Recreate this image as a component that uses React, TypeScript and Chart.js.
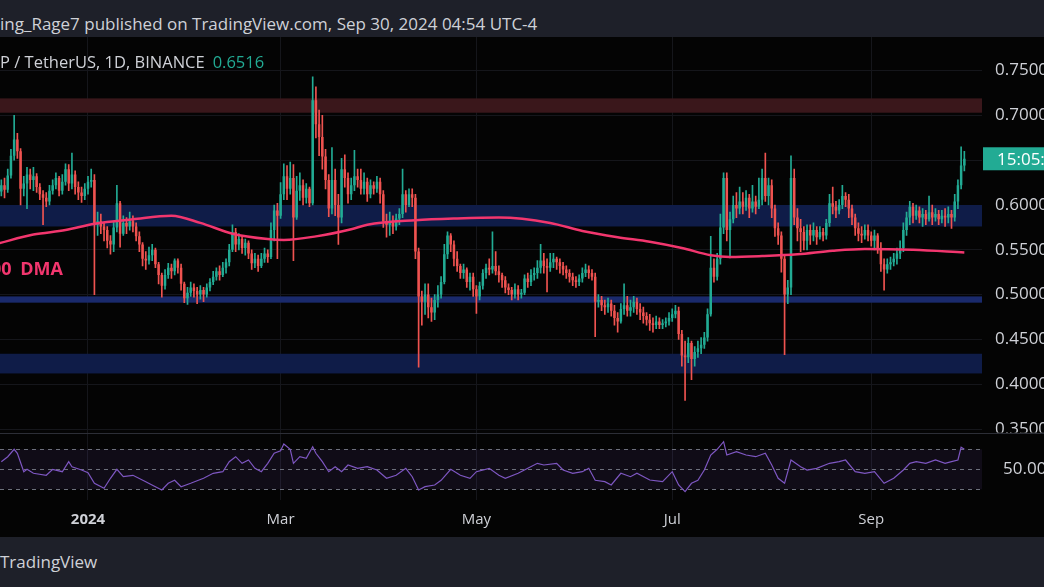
import { useEffect, useRef } from "react";
import { Chart, registerables } from "chart.js";

Chart.register(...registerables);

// Daily XRP / TetherUS candles. Day 0 = 2024-01-01, first candle = 2023-12-05 (day -27).
const firstDay = -27;
const firstOpen = 0.615;
const closes = [
  0.622, 0.617, 0.633, 0.655, 0.673, 0.660, 0.618, 0.624, 0.634, 0.628,
  0.632, 0.620, 0.612, 0.608, 0.604, 0.616, 0.622, 0.630, 0.616, 0.626,
  0.640, 0.624, 0.634, 0.620, 0.614, 0.610, 0.618, 0.626, 0.628, 0.578,
  0.582, 0.576, 0.572, 0.560, 0.556, 0.575, 0.602, 0.568, 0.580, 0.576,
  0.582, 0.576, 0.565, 0.556, 0.540, 0.538, 0.544, 0.550, 0.534, 0.522,
  0.510, 0.522, 0.530, 0.526, 0.538, 0.530, 0.512, 0.496, 0.502, 0.508,
  0.504, 0.500, 0.505, 0.500, 0.508, 0.514, 0.520, 0.526, 0.522, 0.530,
  0.536, 0.550, 0.570, 0.556, 0.562, 0.552, 0.558, 0.546, 0.535, 0.540,
  0.532, 0.540, 0.546, 0.542, 0.572, 0.594, 0.588, 0.612, 0.632, 0.618,
  0.630, 0.586, 0.616, 0.622, 0.608, 0.618, 0.602, 0.717, 0.690, 0.676,
  0.654, 0.628, 0.596, 0.628, 0.600, 0.586, 0.640, 0.630, 0.612, 0.622,
  0.632, 0.628, 0.618, 0.626, 0.612, 0.622, 0.618, 0.626, 0.612, 0.582,
  0.578, 0.582, 0.576, 0.585, 0.590, 0.612, 0.600, 0.612, 0.608, 0.548,
  0.498, 0.492, 0.500, 0.486, 0.480, 0.494, 0.500, 0.514, 0.545, 0.566,
  0.556, 0.540, 0.532, 0.524, 0.528, 0.514, 0.520, 0.506, 0.498, 0.510,
  0.524, 0.530, 0.528, 0.532, 0.526, 0.522, 0.516, 0.508, 0.505, 0.500,
  0.506, 0.500, 0.502, 0.518, 0.514, 0.522, 0.524, 0.530, 0.538, 0.532,
  0.530, 0.536, 0.540, 0.536, 0.532, 0.528, 0.524, 0.520, 0.516, 0.514,
  0.518, 0.524, 0.528, 0.524, 0.520, 0.492, 0.494, 0.488, 0.486, 0.490,
  0.482, 0.474, 0.470, 0.484, 0.488, 0.482, 0.486, 0.492, 0.484, 0.480,
  0.476, 0.472, 0.468, 0.466, 0.470, 0.466, 0.468, 0.470, 0.474, 0.478,
  0.482, 0.456, 0.432, 0.430, 0.446, 0.428, 0.436, 0.440, 0.444, 0.452,
  0.478, 0.530, 0.520, 0.540, 0.575, 0.630, 0.572, 0.584, 0.600, 0.596,
  0.604, 0.598, 0.608, 0.596, 0.604, 0.598, 0.606, 0.630, 0.610, 0.622,
  0.596, 0.574, 0.566, 0.540, 0.500, 0.508, 0.630, 0.586, 0.574, 0.570,
  0.560, 0.572, 0.566, 0.572, 0.564, 0.570, 0.566, 0.580, 0.602, 0.598,
  0.594, 0.600, 0.610, 0.606, 0.596, 0.586, 0.574, 0.568, 0.566, 0.572,
  0.566, 0.560, 0.566, 0.552, 0.534, 0.528, 0.534, 0.536, 0.540, 0.546,
  0.552, 0.572, 0.586, 0.598, 0.588, 0.594, 0.586, 0.590, 0.584, 0.592,
  0.586, 0.590, 0.584, 0.588, 0.586, 0.590, 0.586, 0.604, 0.622, 0.644, 0.6516,
];
const highs = [
  0.628, 0.630, 0.640, 0.662, 0.700, 0.680, 0.663, 0.632, 0.642, 0.640,
  0.642, 0.635, 0.624, 0.616, 0.614, 0.622, 0.628, 0.636, 0.632, 0.634,
  0.646, 0.645, 0.658, 0.638, 0.626, 0.620, 0.624, 0.632, 0.640, 0.634,
  0.592, 0.590, 0.580, 0.576, 0.566, 0.582, 0.622, 0.604, 0.588, 0.586,
  0.592, 0.588, 0.580, 0.570, 0.558, 0.548, 0.553, 0.556, 0.552, 0.536,
  0.524, 0.528, 0.535, 0.534, 0.540, 0.540, 0.534, 0.514, 0.508, 0.514,
  0.512, 0.508, 0.510, 0.508, 0.512, 0.518, 0.526, 0.530, 0.532, 0.536,
  0.540, 0.556, 0.578, 0.574, 0.568, 0.566, 0.562, 0.560, 0.550, 0.546,
  0.544, 0.546, 0.552, 0.550, 0.580, 0.600, 0.602, 0.625, 0.646, 0.644,
  0.648, 0.645, 0.632, 0.636, 0.628, 0.624, 0.620, 0.743, 0.732, 0.706,
  0.700, 0.662, 0.634, 0.664, 0.640, 0.612, 0.652, 0.656, 0.636, 0.630,
  0.661, 0.640, 0.640, 0.636, 0.630, 0.628, 0.626, 0.632, 0.630, 0.616,
  0.590, 0.592, 0.588, 0.590, 0.596, 0.640, 0.616, 0.618, 0.618, 0.612,
  0.552, 0.504, 0.512, 0.512, 0.496, 0.500, 0.510, 0.520, 0.556, 0.570,
  0.568, 0.560, 0.548, 0.534, 0.534, 0.530, 0.524, 0.524, 0.510, 0.514,
  0.528, 0.534, 0.540, 0.570, 0.548, 0.532, 0.524, 0.520, 0.512, 0.508,
  0.512, 0.510, 0.506, 0.522, 0.524, 0.528, 0.530, 0.538, 0.556, 0.546,
  0.540, 0.546, 0.546, 0.542, 0.540, 0.536, 0.532, 0.528, 0.524, 0.520,
  0.522, 0.530, 0.534, 0.532, 0.528, 0.524, 0.500, 0.498, 0.494, 0.496,
  0.494, 0.488, 0.480, 0.490, 0.512, 0.498, 0.494, 0.498, 0.496, 0.490,
  0.486, 0.480, 0.478, 0.474, 0.476, 0.474, 0.472, 0.474, 0.480, 0.484,
  0.488, 0.486, 0.460, 0.448, 0.452, 0.448, 0.442, 0.448, 0.452, 0.458,
  0.484, 0.565, 0.540, 0.546, 0.590, 0.636, 0.636, 0.592, 0.610, 0.614,
  0.620, 0.614, 0.616, 0.612, 0.622, 0.610, 0.630, 0.640, 0.658, 0.630,
  0.628, 0.600, 0.580, 0.570, 0.544, 0.516, 0.655, 0.640, 0.596, 0.584,
  0.576, 0.578, 0.578, 0.580, 0.576, 0.576, 0.574, 0.584, 0.612, 0.620,
  0.604, 0.606, 0.622, 0.614, 0.612, 0.600, 0.590, 0.580, 0.576, 0.578,
  0.578, 0.570, 0.572, 0.568, 0.558, 0.540, 0.540, 0.542, 0.546, 0.552,
  0.560, 0.580, 0.592, 0.604, 0.602, 0.600, 0.598, 0.596, 0.594, 0.610,
  0.600, 0.596, 0.594, 0.594, 0.596, 0.598, 0.594, 0.612, 0.628, 0.665, 0.660,
];
const lows = [
  0.610, 0.608, 0.614, 0.630, 0.650, 0.652, 0.600, 0.610, 0.596, 0.618,
  0.616, 0.614, 0.606, 0.578, 0.598, 0.600, 0.612, 0.618, 0.610, 0.612,
  0.622, 0.616, 0.618, 0.612, 0.606, 0.603, 0.606, 0.612, 0.620, 0.500,
  0.566, 0.568, 0.560, 0.552, 0.545, 0.548, 0.570, 0.553, 0.566, 0.568,
  0.572, 0.570, 0.560, 0.548, 0.532, 0.528, 0.534, 0.538, 0.530, 0.512,
  0.497, 0.506, 0.518, 0.518, 0.522, 0.524, 0.505, 0.491, 0.489, 0.498,
  0.497, 0.490, 0.495, 0.492, 0.497, 0.504, 0.511, 0.516, 0.516, 0.520,
  0.524, 0.532, 0.548, 0.548, 0.550, 0.546, 0.544, 0.540, 0.528, 0.530,
  0.526, 0.530, 0.536, 0.536, 0.540, 0.560, 0.540, 0.585, 0.606, 0.606,
  0.612, 0.538, 0.584, 0.605, 0.600, 0.602, 0.598, 0.600, 0.675, 0.655,
  0.640, 0.618, 0.587, 0.590, 0.588, 0.556, 0.580, 0.620, 0.602, 0.606,
  0.616, 0.620, 0.612, 0.612, 0.604, 0.608, 0.612, 0.614, 0.602, 0.575,
  0.564, 0.566, 0.568, 0.572, 0.578, 0.586, 0.592, 0.598, 0.598, 0.540,
  0.419, 0.466, 0.478, 0.474, 0.470, 0.472, 0.486, 0.496, 0.512, 0.540,
  0.548, 0.532, 0.526, 0.518, 0.518, 0.508, 0.505, 0.498, 0.479, 0.494,
  0.506, 0.518, 0.522, 0.524, 0.522, 0.514, 0.508, 0.502, 0.500, 0.494,
  0.496, 0.494, 0.496, 0.500, 0.508, 0.510, 0.516, 0.518, 0.524, 0.524,
  0.503, 0.526, 0.530, 0.528, 0.524, 0.522, 0.518, 0.514, 0.510, 0.508,
  0.510, 0.514, 0.520, 0.518, 0.516, 0.453, 0.486, 0.482, 0.478, 0.480,
  0.476, 0.466, 0.458, 0.468, 0.478, 0.476, 0.476, 0.480, 0.478, 0.472,
  0.468, 0.466, 0.460, 0.458, 0.462, 0.462, 0.462, 0.464, 0.466, 0.470,
  0.474, 0.450, 0.420, 0.382, 0.424, 0.405, 0.420, 0.430, 0.434, 0.440,
  0.448, 0.476, 0.514, 0.516, 0.534, 0.568, 0.560, 0.541, 0.580, 0.586,
  0.590, 0.590, 0.594, 0.586, 0.592, 0.590, 0.596, 0.600, 0.604, 0.600,
  0.586, 0.565, 0.556, 0.525, 0.433, 0.490, 0.500, 0.578, 0.560, 0.548,
  0.550, 0.550, 0.556, 0.560, 0.556, 0.562, 0.560, 0.562, 0.576, 0.590,
  0.586, 0.590, 0.596, 0.598, 0.586, 0.578, 0.566, 0.560, 0.558, 0.562,
  0.560, 0.554, 0.550, 0.546, 0.526, 0.505, 0.524, 0.528, 0.532, 0.534,
  0.540, 0.548, 0.566, 0.578, 0.580, 0.584, 0.580, 0.576, 0.578, 0.582,
  0.578, 0.582, 0.578, 0.580, 0.576, 0.580, 0.574, 0.582, 0.596, 0.618, 0.638,
];

// 200-day moving average
const dmaDays = [-28, -17, -7, 2, 14, 26, 35, 45, 56, 61, 71, 82, 87, 102, 115, 128, 144, 154, 165, 175, 185, 194, 200, 210, 221, 232, 242, 257, 273];
const dmaValues = [0.557, 0.567, 0.572, 0.579, 0.584, 0.588, 0.580, 0.568, 0.562, 0.561, 0.565, 0.573, 0.578, 0.583, 0.585, 0.586, 0.580, 0.571, 0.564, 0.559, 0.552, 0.544, 0.542, 0.543, 0.545, 0.549, 0.551, 0.550, 0.547];

// RSI pane
const rsiDays = [-27, -25, -23, -22, -20, -19, -17, -13, -11, -8, -6, -5, -2, 0, 2, 5, 7, 9, 11, 14, 18, 21, 23, 25, 27, 29, 32, 36, 39, 42, 44, 46, 48, 50, 52, 54, 56, 58, 60, 61, 63, 64, 66, 68, 70, 71, 73, 75, 77, 79, 81, 84, 87, 90, 93, 96, 99, 101, 103, 105, 108, 110, 113, 116, 119, 121, 125, 128, 130, 134, 137, 140, 142, 146, 148, 151, 154, 156, 158, 161, 163, 166, 169, 171, 175, 179, 182, 184, 186, 188, 190, 192, 194, 196, 198, 199, 202, 205, 208, 211, 213, 215, 217, 219, 222, 224, 227, 231, 234, 236, 239, 242, 245, 248, 251, 254, 256, 258, 261, 264, 267, 269, 271, 272, 273];
const rsiValues = [57.6, 62.6, 70, 66, 47.6, 50, 46, 44, 50, 47.6, 57.6, 52.6, 49.3, 46.6, 36, 31, 41, 50, 42.6, 44, 37.6, 32.6, 29.3, 36, 39, 32.6, 36, 41, 46, 47.6, 57.6, 62.6, 56, 59.3, 51, 47.6, 56, 66, 68.6, 75.3, 70, 56, 62.6, 61, 72.6, 66, 57.6, 47.6, 52.6, 47.6, 54.3, 51, 52.6, 49.3, 41, 44, 51, 42.6, 29.3, 32.6, 34.3, 39, 50, 44, 41, 47.6, 51, 44, 41, 46, 51, 56, 54.3, 56, 49.3, 46, 47.6, 51, 39, 37.6, 34.3, 46, 42.6, 46, 39.3, 37.6, 47.6, 34.3, 27.6, 36, 39, 49.3, 64.3, 70, 77.6, 64.3, 67.6, 64.3, 62.6, 66, 54.3, 41, 36, 59.3, 52.6, 49.3, 51, 56, 57.6, 59.3, 47.6, 46, 47.6, 36, 41, 49.3, 56, 57.6, 56, 59.3, 56, 57.6, 59.3, 72, 70];

const xTickDays = [0, 60, 121, 182, 244];
const xTickLabels = ["2024", "Mar", "May", "Jul", "Sep"];
const priceTicks = [0.35, 0.4, 0.45, 0.5, 0.55, 0.6, 0.65, 0.7, 0.75];
const rsiTicks = [50];
const rsiLevels = [70, 50, 30];
const zoneLows = [0.703, 0.576, 0.491, 0.412];
const zoneHighs = [0.719, 0.6, 0.498, 0.434];
const zoneColors = ["#3a171b", "#0f1c48", "#1a2a6c", "#0f1c48"];
const lastPrice = 0.6516;
const countdown = "15:05:52";

const BG = "#040404";
const BAR = "#1e2029";
const GREEN = "#22ab94";
const RED = "#ef5350";
const PINK = "#f2366e";
const GRID = "#15161b";
const TEXT = "#cfd1d7";
const FONT = "'Open Sans', sans-serif";

const noPadding = (s: any) => {
  s.paddingTop = 0;
  s.paddingBottom = 0;
  s.paddingLeft = 0;
  s.paddingRight = 0;
};

const panePlugin = {
  id: "panes",
  beforeDatasetsDraw(chart: any) {
    const { ctx, chartArea: a, scales } = chart;
    const y = scales.y;
    const r = scales.yRsi;
    ctx.save();
    for (let i = 0; i < zoneLows.length; i++) {
      const top = y.getPixelForValue(zoneHighs[i]);
      const bot = y.getPixelForValue(zoneLows[i]);
      ctx.fillStyle = zoneColors[i];
      ctx.fillRect(a.left, top, a.right - a.left, bot - top);
    }
    const t = r.getPixelForValue(rsiLevels[0]);
    const b = r.getPixelForValue(rsiLevels[2]);
    ctx.fillStyle = "rgba(126,87,194,0.10)";
    ctx.fillRect(a.left, t, a.right - a.left, b - t);
    ctx.setLineDash([4, 4]);
    ctx.strokeStyle = "#6c6f7b";
    ctx.lineWidth = 1;
    for (const lv of rsiLevels) {
      const py = Math.round(r.getPixelForValue(lv)) + 0.5;
      ctx.beginPath();
      ctx.moveTo(a.left, py);
      ctx.lineTo(a.right, py);
      ctx.stroke();
    }
    ctx.restore();
  },
  afterDraw(chart: any) {
    const { ctx, chartArea: a, scales, width } = chart;
    const y = scales.y;
    ctx.save();
    ctx.fillStyle = BG;
    ctx.fillRect(a.right, y.bottom, width - a.right, 14);
    ctx.strokeStyle = "#2c2e36";
    ctx.lineWidth = 1;
    const sy = Math.round(y.bottom) + 0.5;
    ctx.beginPath();
    ctx.moveTo(0, sy);
    ctx.lineTo(width, sy);
    ctx.stroke();
    const py = y.getPixelForValue(lastPrice);
    ctx.fillStyle = GREEN;
    ctx.fillRect(a.right + 1, py - 11.5, width - a.right - 1, 23);
    ctx.fillStyle = "#ffffff";
    ctx.font = "17px " + FONT;
    ctx.textBaseline = "middle";
    ctx.fillText(countdown, a.right + 15, py + 1);
    ctx.restore();
  },
};

export default function App() {
  const ref = useRef<HTMLCanvasElement>(null);

  useEffect(() => {
    const canvas = ref.current;
    if (!canvas) return;
    const days = closes.map((_, i) => firstDay + i);
    const opens = closes.map((_, i) => (i === 0 ? firstOpen : closes[i - 1]));
    const colors = closes.map((c, i) => (c >= opens[i] ? GREEN : RED));

    const chart = new Chart(canvas, {
      type: "bar",
      data: {
        datasets: [
          {
            type: "line",
            label: "200 DMA",
            data: dmaDays.map((d, i) => ({ x: d, y: dmaValues[i] })),
            yAxisID: "y",
            borderColor: PINK,
            borderWidth: 2.5,
            pointRadius: 0,
            cubicInterpolationMode: "monotone",
            order: 0,
          } as any,
          {
            type: "line",
            label: "RSI",
            data: rsiDays.map((d, i) => ({ x: d, y: rsiValues[i] })),
            yAxisID: "yRsi",
            borderColor: "#7e57c2",
            borderWidth: 1.2,
            pointRadius: 0,
            tension: 0,
            order: 0,
          } as any,
          {
            type: "bar",
            label: "bodies",
            data: days.map((d, i) => ({ x: d, y: [Math.min(opens[i], closes[i]), Math.max(opens[i], closes[i])] })),
            backgroundColor: colors,
            grouped: false,
            barPercentage: 0.78,
            categoryPercentage: 1,
            minBarLength: 1,
            yAxisID: "y",
            order: 1,
          } as any,
          {
            type: "bar",
            label: "wicks",
            data: days.map((d, i) => ({ x: d, y: [Math.min(lows[i], opens[i], closes[i]), Math.max(highs[i], opens[i], closes[i])] })),
            backgroundColor: colors,
            grouped: false,
            maxBarThickness: 1,
            barPercentage: 1,
            categoryPercentage: 1,
            yAxisID: "y",
            order: 2,
          } as any,
        ],
      },
      options: {
        animation: false,
        responsive: false,
        events: [],
        layout: { padding: 0 },
        plugins: { legend: { display: false }, tooltip: { enabled: false } },
        scales: {
          x: {
            type: "linear",
            min: -27.41,
            max: 278.5,
            offset: false,
            grid: { color: GRID, drawTicks: false, offset: false },
            border: { display: false },
            afterBuildTicks: (s: any) => {
              s.ticks = xTickDays.map((v) => ({ value: v }));
            },
            afterFit: (s: any) => {
              s.height = 37;
              noPadding(s);
            },
            ticks: {
              autoSkip: false,
              maxRotation: 0,
              padding: 11,
              color: TEXT,
              font: (c: any) => ({ family: FONT, size: 15, weight: c.tick && c.tick.value === 0 ? "bold" : "normal" }),
              callback: (v: any) => {
                const k = xTickDays.indexOf(Number(v));
                return k >= 0 ? xTickLabels[k] : "";
              },
            },
          },
          y: {
            type: "linear",
            position: "right",
            stack: "panes",
            stackWeight: 395.5,
            min: 0.3461,
            max: 0.7875,
            grid: { color: GRID, drawTicks: false },
            border: { display: false },
            afterBuildTicks: (s: any) => {
              s.ticks = priceTicks.map((v) => ({ value: v }));
            },
            afterFit: (s: any) => {
              s.width = 62;
              noPadding(s);
            },
            ticks: {
              autoSkip: false,
              padding: 13,
              color: TEXT,
              font: { family: FONT, size: 17 },
              callback: (v: any) => Number(v).toFixed(4),
            },
          },
          yRsi: {
            type: "linear",
            position: "right",
            stack: "panes",
            stackWeight: 67.5,
            min: 19.3,
            max: 86.8,
            grid: { display: false },
            border: { display: false },
            afterBuildTicks: (s: any) => {
              s.ticks = rsiTicks.map((v) => ({ value: v }));
            },
            afterFit: (s: any) => {
              s.width = 62;
              noPadding(s);
            },
            ticks: {
              autoSkip: false,
              padding: 13,
              color: TEXT,
              font: { family: FONT, size: 17 },
              callback: (v: any) => Number(v).toFixed(2),
            },
          },
        } as any,
      },
      plugins: [panePlugin],
    });
    return () => chart.destroy();
  }, []);

  return (
    <div
      style={{
        position: "fixed",
        left: 0,
        top: 0,
        width: 1044,
        height: 587,
        overflow: "hidden",
        background: BG,
        fontFamily: FONT,
        color: TEXT,
      }}
    >
      <div
        style={{
          position: "absolute",
          left: 0,
          top: 0,
          width: 1044,
          height: 37,
          background: BAR,
          boxSizing: "border-box",
          paddingTop: 14,
          fontSize: 17,
          lineHeight: "20px",
          whiteSpace: "nowrap",
        }}
      >
        ing_Rage7 published on TradingView.com, Sep 30, 2024 04:54 UTC-4
      </div>
      <canvas ref={ref} width={1044} height={500} style={{ position: "absolute", left: 0, top: 37, width: 1044, height: 500 }} />
      <div style={{ position: "absolute", left: 0, top: 51, fontSize: 16.5, lineHeight: "22px", whiteSpace: "nowrap" }}>
        P / TetherUS, 1D, BINANCE<span style={{ color: GREEN, marginLeft: 8 }}>0.6516</span>
      </div>
      <div
        style={{
          position: "absolute",
          right: 981,
          top: 256,
          fontSize: 18,
          fontWeight: 700,
          lineHeight: "24px",
          wordSpacing: 4,
          color: PINK,
          whiteSpace: "nowrap",
        }}
      >
        200 DMA
      </div>
      <div
        style={{
          position: "absolute",
          left: 0,
          top: 537,
          width: 1044,
          height: 50,
          background: BAR,
          fontSize: 17,
          lineHeight: "50px",
          whiteSpace: "nowrap",
        }}
      >
        TradingView
      </div>
    </div>
  );
}
